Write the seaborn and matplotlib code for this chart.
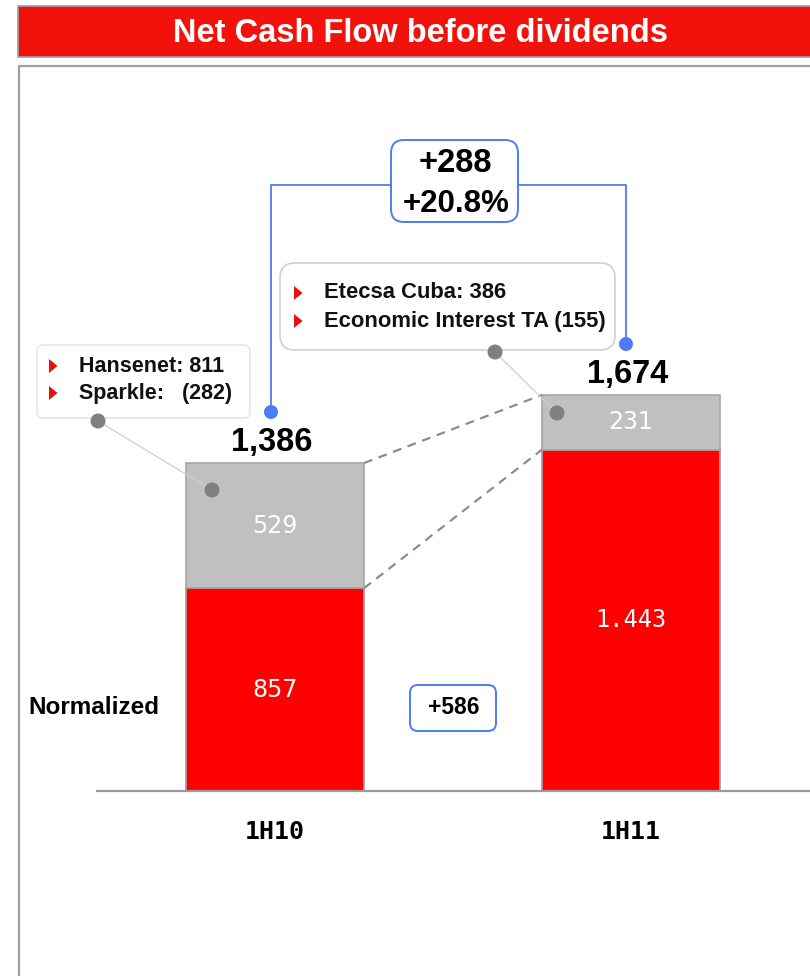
import matplotlib
matplotlib.use("Agg")
import matplotlib.pyplot as plt
from matplotlib.patches import Rectangle, FancyBboxPatch, Circle, Polygon
from matplotlib.lines import Line2D
from matplotlib.transforms import Affine2D
import seaborn as sns
import pandas as pd

# ---- data -------------------------------------------------------------
periods = ["1H10", "1H11"]
normalized = [857, 1443]          # red segment
other_items = [529, 231]          # grey segment
totals = [1386, 1674]
notes_1h10 = ["Hansenet: 811", "Sparkle:   (282)"]
notes_1h11 = ["Etecsa Cuba: 386", "Economic Interest TA (155)"]

# ---- style ------------------------------------------------------------
sns.set_theme(style="white")
plt.rcParams["font.family"] = ["Liberation Sans", "DejaVu Sans"]

RED = "#FF0000"
BANNER = "#F2120B"
GREY = "#C0C0C0"
EDGE = "#A6A6A6"
BLUE = "#4D7CF5"
DOT = "#808080"

W, H = 810, 976
fig = plt.figure(figsize=(W / 100, H / 100), dpi=100)
# pixel coordinates measured from the top-left corner
PX = Affine2D().scale(1 / W, -1 / H).translate(0, 1) + fig.transFigure

df = pd.DataFrame({"period": periods, "normalized": normalized,
                   "total": totals, "other": other_items})

# ---- bars -------------------------------------------------------------
ax = fig.add_axes([97 / W, (H - 791) / H, 713 / W, (791 - 80) / H])
sns.barplot(data=df, x="period", y="total", color=GREY, saturation=1,
            width=0.5, edgecolor=EDGE, linewidth=1.2, errorbar=None, ax=ax)
sns.barplot(data=df, x="period", y="normalized", color=RED, saturation=1,
            width=0.5, edgecolor=EDGE, linewidth=1.2, errorbar=None, ax=ax)
ax.set_xlim(-0.5, 1.503)
ax.set_ylim(0, 3005)
ax.set_xlabel("")
ax.set_ylabel("")
ax.set_yticks([])
for s in ["top", "left", "right"]:
    ax.spines[s].set_visible(False)
ax.spines["bottom"].set_color("#9A9A9A")
ax.spines["bottom"].set_linewidth(1.6)
ax.tick_params(axis="x", length=0, pad=21)
for lbl in ax.get_xticklabels():
    lbl.set_fontfamily("DejaVu Sans Mono")
    lbl.set_fontweight("bold")
    lbl.set_fontsize(18)
    lbl.set_color("black")

# segment values
for i, (n, o, t) in enumerate(zip(normalized, other_items, totals)):
    n_txt = f"{n:,}".replace(",", ".")
    ax.text(i, n / 2, n_txt, ha="center", va="center", color="white",
            fontsize=17, family="DejaVu Sans Mono" if n >= 1000 else "DejaVu Sans")
    ax.text(i, n + o / 2, f"{o}", ha="center", va="center", color="white",
            fontsize=17, family="DejaVu Sans")
    ax.annotate(f"{t:,}", (i - 0.01, t), xytext=(0, 14.5),
                textcoords="offset points", ha="center", va="center",
                fontsize=23.5, fontweight="bold", color="black")

# dashed connectors between the bars
half = 0.25
for a, b in [(totals[0], totals[1]), (normalized[0], normalized[1])]:
    ax.plot([0 + half, 1 - half], [a, b], ls=(0, (4, 3)), color="#8C8C8C",
            lw=1.6, zorder=1)

# ---- header banner and frame -----------------------------------------
fig.add_artist(Rectangle((18, 57), W, -51, transform=PX, facecolor=BANNER,
                         edgecolor="#A0A0A0", lw=1.2))
fig.text(421 / W, 1 - 34 / H, "Net Cash Flow before dividends",
         ha="center", va="center", color="white", fontsize=23.5,
         fontweight="bold")
fig.add_artist(Line2D([19, 19, W], [H, 66, 66], transform=PX,
                      color="#A0A0A0", lw=1.6))

fig.text(28 / W, 1 - 708 / H, "Normalized", ha="left", va="center",
         fontsize=17.5, fontweight="bold", color="black")


def bullet(x, y):
    fig.add_artist(Polygon([(x - 4, y - 7), (x - 4, y + 7), (x + 4.5, y)],
                           closed=True, transform=PX, color="#E8100A", lw=0))


def dot(x, y, r, c):
    fig.add_artist(Circle((x, y), r, transform=PX, color=c, lw=0, zorder=5))


# ---- callout: 1H10 ---------------------------------------------------
fig.add_artist(FancyBboxPatch((37, 345), 213, 73, boxstyle="round,pad=0,rounding_size=6",
                              transform=PX, facecolor="white",
                              edgecolor="#E2E2E2", lw=1.0))
for k, line in enumerate(notes_1h10):
    y = 366 + 27 * k
    bullet(53, y)
    fig.text(79 / W, 1 - y / H, line, ha="left", va="center",
             fontsize=15.5, fontweight="bold", color="#111111")
fig.add_artist(Line2D([98, 212], [421, 490], transform=PX,
                      color="#CFCFCF", lw=0.9))
dot(98, 421, 7.5, DOT)
dot(212, 490, 7.5, DOT)

# ---- callout: 1H11 ---------------------------------------------------
fig.add_artist(FancyBboxPatch((280, 263), 335, 87, boxstyle="round,pad=0,rounding_size=15",
                              transform=PX, facecolor="white",
                              edgecolor="#CFCFCF", lw=1.2))
for k, line in enumerate(notes_1h11):
    y = 293 + 28 * k
    bullet(298, y)
    fig.text(324 / W, 1 - y / H, line, ha="left", va="center",
             fontsize=15.8, fontweight="bold", color="#111111")
fig.add_artist(Line2D([495, 557], [352, 413], transform=PX,
                      color="#CFCFCF", lw=0.9))
dot(495, 352, 7.5, DOT)
dot(557, 413, 7.5, DOT)

# ---- growth bracket ----------------------------------------------------
delta = totals[1] - totals[0]
pct = delta / totals[0] * 100
fig.add_artist(Line2D([271, 271, 391], [412, 185, 185], transform=PX,
                      color=BLUE, lw=1.3))
fig.add_artist(Line2D([518, 626, 626], [185, 185, 344], transform=PX,
                      color=BLUE, lw=1.3))
dot(271, 412, 7, BLUE)
dot(626, 344, 7, BLUE)
fig.add_artist(FancyBboxPatch((391, 140), 127, 82, boxstyle="round,pad=0,rounding_size=13",
                              transform=PX, facecolor="white",
                              edgecolor=BLUE, lw=1.4))
fig.text(455 / W, 1 - 163 / H, f"+{delta}", ha="center", va="center",
         fontsize=23.5, fontweight="bold", color="black")
fig.text(456 / W, 1 - 204 / H, f"+{pct:.1f}%", ha="center", va="center",
         fontsize=22.5, fontweight="bold", color="black")

# ---- normalized change -------------------------------------------------
norm_delta = normalized[1] - normalized[0]
fig.add_artist(FancyBboxPatch((410, 685), 86, 46, boxstyle="round,pad=0,rounding_size=8",
                              transform=PX, facecolor="white",
                              edgecolor=BLUE, lw=1.4))
fig.text(454 / W, 1 - 708 / H, f"+{norm_delta}", ha="center", va="center",
         fontsize=16.5, fontweight="bold", color="black")

fig.savefig("out.png", dpi=100)
